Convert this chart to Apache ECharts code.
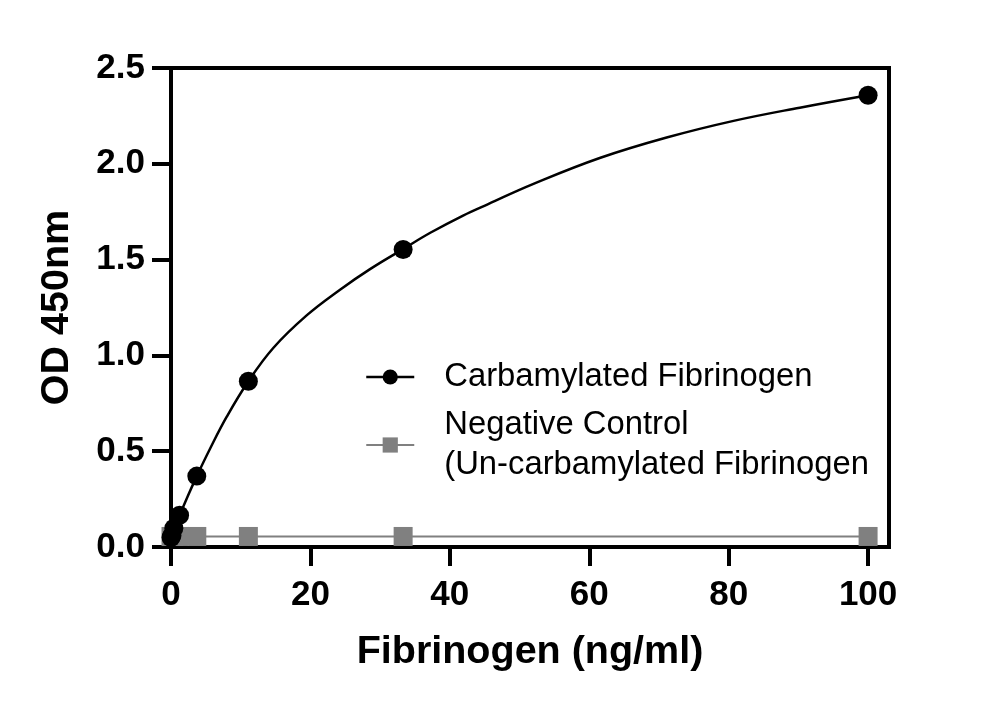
<!DOCTYPE html>
<html>
<head>
<meta charset="utf-8">
<script src="https://cdn.jsdelivr.net/npm/echarts@6/dist/echarts.min.js"></script>
<style>
  html, body { margin: 0; padding: 0; background: #fff; }
  #chart { width: 1000px; height: 708px; }
</style>
</head>
<body>
<div id="chart"></div>
<script>
// Concentrations (ng/ml)
const concentrations = [0, 0.137, 0.41, 1.23, 3.7, 11.1, 33.3, 100];
// Measured OD 450nm
const carbamylatedOD = [0.05, 0.06, 0.098, 0.166, 0.37, 0.865, 1.553, 2.358];
const negativeOD = [0.055, 0.055, 0.055, 0.055, 0.055, 0.055, 0.055, 0.055];
// Fitted curve
const fitX = [0, 0.41, 1.23, 2.4, 3.7, 5.6, 8.0, 11.1, 14.7, 19.5, 24.25, 28.5, 33.3, 37.2, 41.9, 45.5, 52, 61.5, 71.1, 80.7, 90.2, 100];
const fitY = [0.05, 0.088, 0.164, 0.265, 0.37, 0.513, 0.68, 0.865, 1.04, 1.21, 1.343, 1.449, 1.555, 1.64, 1.73, 1.79, 1.895, 2.03, 2.137, 2.224, 2.293, 2.358];
const xTicks = [0, 20, 40, 60, 80, 100];
const seriesNames = ['Carbamylated Fibrinogen', 'Negative Control\n(Un-carbamylated Fibrinogen'];

const FONT = '"Liberation Sans", Arial, Helvetica, sans-serif';
const zip = (xs, ys) => xs.map((x, i) => [x, ys[i]]);

const chart = echarts.init(document.getElementById('chart'));
chart.setOption({
  animation: false,
  backgroundColor: '#fff',
  textStyle: { fontFamily: FONT },
  grid: {
    left: 171, right: 111, top: 68, bottom: 161,
    containLabel: false, outerBoundsMode: 'none',
    show: true, borderColor: '#000', borderWidth: 4
  },
  legend: {
    orient: 'vertical',
    left: 365, top: 357,
    padding: 0,
    itemGap: 8,
    itemWidth: 48, itemHeight: 19,
    textStyle: { fontFamily: FONT, fontSize: 32.8, color: '#000', lineHeight: 40, padding: [0, 0, 0, 25] },
    data: [
      { name: seriesNames[0], lineStyle: { width: 2.5, color: '#000', opacity: 1 } },
      { name: seriesNames[1], lineStyle: { width: 2, color: '#808080', opacity: 1 } }
    ]
  },
  xAxis: {
    type: 'value', min: 0, max: 103,
    name: 'Fibrinogen (ng/ml)', nameLocation: 'middle', nameGap: 85,
    nameTextStyle: { fontFamily: FONT, fontSize: 39.5, fontWeight: 'bold', color: '#000' },
    axisLine: { show: true, lineStyle: { color: '#000', width: 4 } },
    axisTick: { show: true, length: 19, lineStyle: { color: '#000', width: 4 }, customValues: xTicks },
    axisLabel: { fontFamily: FONT, fontSize: 35, fontWeight: 'bold', color: '#000', margin: 31, customValues: xTicks },
    splitLine: { show: false }
  },
  yAxis: {
    type: 'value', min: 0, max: 2.5, interval: 0.5,
    name: 'OD 450nm', nameLocation: 'middle', nameGap: 94,
    nameTextStyle: { fontFamily: FONT, fontSize: 39.5, fontWeight: 'bold', color: '#000' },
    axisLine: { show: true, lineStyle: { color: '#000', width: 4 } },
    axisTick: { show: true, length: 19, lineStyle: { color: '#000', width: 4 } },
    axisLabel: { fontFamily: FONT, fontSize: 35, fontWeight: 'bold', color: '#000', margin: 26,
      formatter: v => v.toFixed(1) },
    splitLine: { show: false }
  },
  series: [
    {
      name: seriesNames[1], type: 'line', z: 2,
      data: zip(concentrations, negativeOD),
      symbol: 'rect', symbolSize: 19,
      itemStyle: { color: '#808080' },
      lineStyle: { color: '#808080', width: 2 }
    },
    {
      name: 'fit', type: 'line', z: 3, smooth: 0.4,
      data: zip(fitX, fitY),
      showSymbol: false, symbol: 'none', silent: true,
      lineStyle: { color: '#000', width: 2.5 }
    },
    {
      name: seriesNames[0], type: 'line', z: 4,
      data: zip(concentrations, carbamylatedOD),
      symbol: 'circle', symbolSize: 19,
      itemStyle: { color: '#000' },
      lineStyle: { width: 0, color: '#000' }
    }
  ]
});
</script>
</body>
</html>
